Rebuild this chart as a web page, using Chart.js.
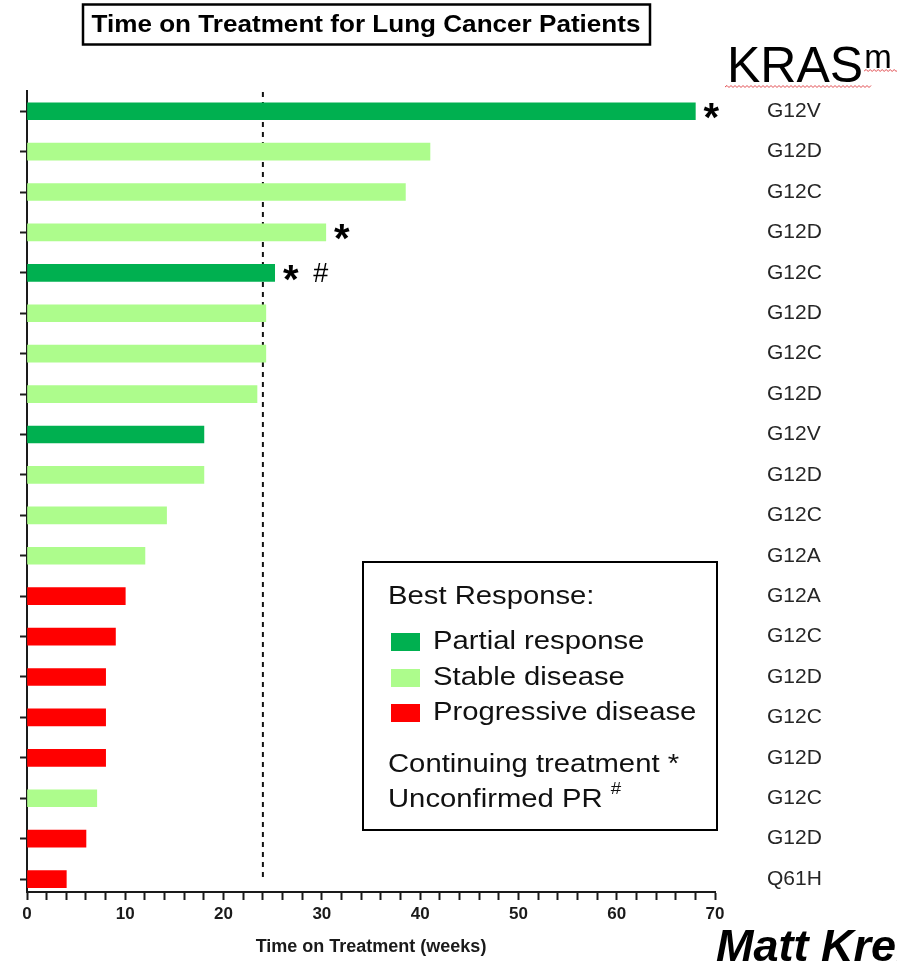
<!DOCTYPE html>
<html>
<head>
<meta charset="utf-8">
<script src="https://cdn.jsdelivr.net/npm/chart.js@4.4.1/dist/chart.umd.min.js"></script>
<style>
  html, body { margin: 0; padding: 0; background: #ffffff; }
  #wrap { position: relative; width: 897px; height: 966px; }
</style>
</head>
<body>
<div id="wrap"><canvas id="chart"></canvas></div>
<script>
// KRAS mutation carried by each patient, listed from top to bottom
const mutations = ['G12V', 'G12D', 'G12C', 'G12D', 'G12C', 'G12D', 'G12C', 'G12D', 'G12V', 'G12D',
                   'G12C', 'G12A', 'G12A', 'G12C', 'G12D', 'G12C', 'G12D', 'G12C', 'G12D', 'Q61H'];
// Time on treatment in weeks
const weeks = [68, 41, 38.5, 30.4, 25.2, 24.3, 24.3, 23.4, 18, 18,
               14.2, 12, 10, 9, 8, 8, 8, 7.1, 6, 4];
// Best response per patient: PR = partial response, SD = stable disease, PD = progressive disease
const responses = ['PR', 'SD', 'SD', 'SD', 'PR', 'SD', 'SD', 'SD', 'PR', 'SD',
                   'SD', 'SD', 'PD', 'PD', 'PD', 'PD', 'PD', 'SD', 'PD', 'PD'];
// Still on treatment (*) and unconfirmed partial response (#)
const continuing  = [true, false, false, true, true, false, false, false, false, false,
                     false, false, false, false, false, false, false, false, false, false];
const unconfirmed = [false, false, false, false, true, false, false, false, false, false,
                     false, false, false, false, false, false, false, false, false, false];
const responseCodes  = ['PR', 'SD', 'PD'];
const responseLabels = ['Partial response', 'Stable disease', 'Progressive disease'];
const responseColors = { PR: '#00b050', SD: '#adfc8c', PD: '#ff0000' };
const xTickLabels = [0, 10, 20, 30, 40, 50, 60, 70];
const referenceWeeks = 24;

const FONT = '"Liberation Sans", Arial, sans-serif';

// Draw text stretched horizontally so that it spans the given width
function fitText(ctx, text, x, y, font, width, align) {
  ctx.save();
  ctx.font = font;
  const w = ctx.measureText(text).width;
  const sx = width / w;
  ctx.textBaseline = 'middle';
  ctx.textAlign = 'left';
  let left = x;
  if (align === 'center') left = x - width / 2;
  ctx.translate(left, y);
  ctx.scale(sx, 1);
  ctx.fillText(text, 0, 0);
  ctx.restore();
  return sx;
}

function stretchedText(ctx, text, x, y, font, sx) {
  ctx.save();
  ctx.font = font;
  ctx.textBaseline = 'middle';
  ctx.textAlign = 'left';
  ctx.translate(x, y);
  ctx.scale(sx, 1);
  ctx.fillText(text, 0, 0);
  const w = ctx.measureText(text).width * sx;
  ctx.restore();
  return w;
}

function wavy(ctx, x0, x1, y, color) {
  ctx.save();
  ctx.strokeStyle = color;
  ctx.lineWidth = 1;
  ctx.beginPath();
  let up = true;
  ctx.moveTo(x0, y);
  for (let x = x0 + 2; x <= x1; x += 2) {
    ctx.lineTo(x, up ? y - 1.5 : y + 0.5);
    up = !up;
  }
  ctx.stroke();
  ctx.restore();
}

const referenceLine = {
  id: 'referenceLine',
  beforeDatasetsDraw(chart) {
    const { ctx, scales } = chart;
    const x = scales.x.getPixelForValue(referenceWeeks);
    ctx.save();
    ctx.strokeStyle = '#111';
    ctx.lineWidth = 2;
    ctx.setLineDash([5, 5]);
    ctx.beginPath();
    ctx.moveTo(x, chart.chartArea.top + 1);
    ctx.lineTo(x, scales.y.getPixelForValue(mutations.length - 1) + 2);
    ctx.stroke();
    ctx.restore();
  }
};

const barMarks = {
  id: 'barMarks',
  afterDatasetsDraw(chart) {
    const { ctx, scales } = chart;
    ctx.save();
    ctx.fillStyle = '#000';
    weeks.forEach((w, i) => {
      const end = scales.x.getPixelForValue(w);
      const cy = scales.y.getPixelForValue(i);
      if (continuing[i]) {
        ctx.font = 'bold 40px ' + FONT;
        ctx.textAlign = 'center';
        ctx.textBaseline = 'alphabetic';
        const m = ctx.measureText('*');
        const base = cy + (m.actualBoundingBoxAscent - m.actualBoundingBoxDescent) / 2;
        ctx.fillText('*', end + 16, base);
      }
      if (unconfirmed[i]) {
        ctx.font = '27px ' + FONT;
        ctx.textAlign = 'center';
        ctx.textBaseline = 'alphabetic';
        const m = ctx.measureText('#');
        const base = cy + (m.actualBoundingBoxAscent - m.actualBoundingBoxDescent) / 2;
        ctx.fillText('#', end + 46, base);
      }
    });
    ctx.restore();
  }
};

const decorations = {
  id: 'decorations',
  afterDraw(chart) {
    const ctx = chart.ctx;
    ctx.save();

    // Boxed title
    ctx.strokeStyle = '#000';
    ctx.lineWidth = 2.5;
    ctx.strokeRect(83, 4.5, 567, 40);
    ctx.fillStyle = '#000';
    fitText(ctx, 'Time on Treatment for Lung Cancer Patients', 366, 25, 'bold 24px ' + FONT, 549, 'center');

    // KRAS^m heading
    ctx.fillStyle = '#000';
    ctx.font = '50px ' + FONT;
    ctx.textAlign = 'left';
    ctx.textBaseline = 'alphabetic';
    ctx.fillText('KRAS', 727, 82);
    const kw = ctx.measureText('KRAS').width;
    ctx.font = '33px ' + FONT;
    ctx.fillText('m', 727 + kw + 1, 68);
    wavy(ctx, 725, 727 + kw + 8, 87, '#e0484c');
    wavy(ctx, 727 + kw + 1, 900, 71, '#e0484c');

    // Legend box
    ctx.lineWidth = 2;
    ctx.strokeStyle = '#000';
    ctx.strokeRect(363, 562, 354, 268);
    ctx.fillStyle = '#111';
    const lf = '25px ' + FONT;
    const sx = 1.17;
    stretchedText(ctx, 'Best Response:', 388, 597, lf, sx);
    const rowsY = [642, 678, 713];
    responseCodes.forEach((code, i) => {
      ctx.fillStyle = responseColors[code];
      ctx.fillRect(391, rowsY[i] - 9, 29, 18);
      ctx.fillStyle = '#111';
      stretchedText(ctx, responseLabels[i], 433, rowsY[i], lf, sx);
    });
    stretchedText(ctx, 'Continuing treatment *', 388, 765, lf, sx);
    const uw = stretchedText(ctx, 'Unconfirmed PR ', 388, 800, lf, sx);
    stretchedText(ctx, '#', 388 + uw, 790, '16px ' + FONT, sx);

    // Presenter name
    ctx.fillStyle = '#000';
    ctx.font = 'italic bold 45px ' + FONT;
    ctx.textAlign = 'left';
    ctx.textBaseline = 'alphabetic';
    ctx.fillText('Matt Krebs', 716, 961);

    ctx.restore();
  }
};

const rowTicks = (scale) => { scale.ticks = mutations.map((_, i) => ({ value: i })); };

new Chart(document.getElementById('chart'), {
  type: 'bar',
  data: {
    datasets: [{
      data: weeks.map((w, i) => ({ x: w, y: i })),
      backgroundColor: responses.map(r => responseColors[r]),
      borderWidth: 0,
      barThickness: 17
    }]
  },
  options: {
    indexAxis: 'y',
    responsive: true,
    maintainAspectRatio: false,
    animation: false,
    layout: { padding: { top: 91, right: 0, bottom: 0, left: 0 } },
    plugins: { legend: { display: false }, tooltip: { enabled: false }, title: { display: false } },
    scales: {
      x: {
        type: 'linear',
        position: 'bottom',
        min: 0,
        max: 70,
        ticks: {
          stepSize: 2,
          autoSkip: false,
          maxRotation: 0,
          padding: 4,
          color: '#1a1a1a',
          font: { family: FONT, size: 17, weight: 'bold' },
          callback: (v) => xTickLabels.includes(v) ? String(v) : ''
        },
        grid: { drawOnChartArea: false, drawTicks: true, tickLength: 8, tickWidth: 2, tickColor: '#1a1a1a' },
        border: { color: '#1a1a1a', width: 2 },
        title: {
          display: true,
          text: 'Time on Treatment (weeks)',
          color: '#1a1a1a',
          font: { family: FONT, size: 18, weight: 'bold' },
          padding: { top: 0, bottom: 8 }
        },
        afterFit: (scale) => { scale.height = 74; }
      },
      y: {
        type: 'linear',
        position: 'left',
        reverse: true,
        offset: false,
        min: -0.5,
        max: 19.32,
        afterBuildTicks: rowTicks,
        ticks: { display: false },
        grid: { offset: false, drawOnChartArea: false, drawTicks: true, tickLength: 7, tickWidth: 2, tickColor: '#1a1a1a' },
        border: { color: '#1a1a1a', width: 2 },
        afterFit: (scale) => { scale.width = 27; }
      },
      y2: {
        type: 'linear',
        position: 'right',
        reverse: true,
        offset: false,
        min: -0.5,
        max: 19.32,
        afterBuildTicks: rowTicks,
        ticks: {
          padding: 52,
          color: '#262626',
          font: { family: FONT, size: 21 },
          callback: (v) => mutations[v]
        },
        grid: { display: false, drawTicks: false },
        border: { display: false },
        afterFit: (scale) => { scale.width = 182; }
      }
    }
  },
  plugins: [referenceLine, barMarks, decorations]
});
</script>
</body>
</html>
